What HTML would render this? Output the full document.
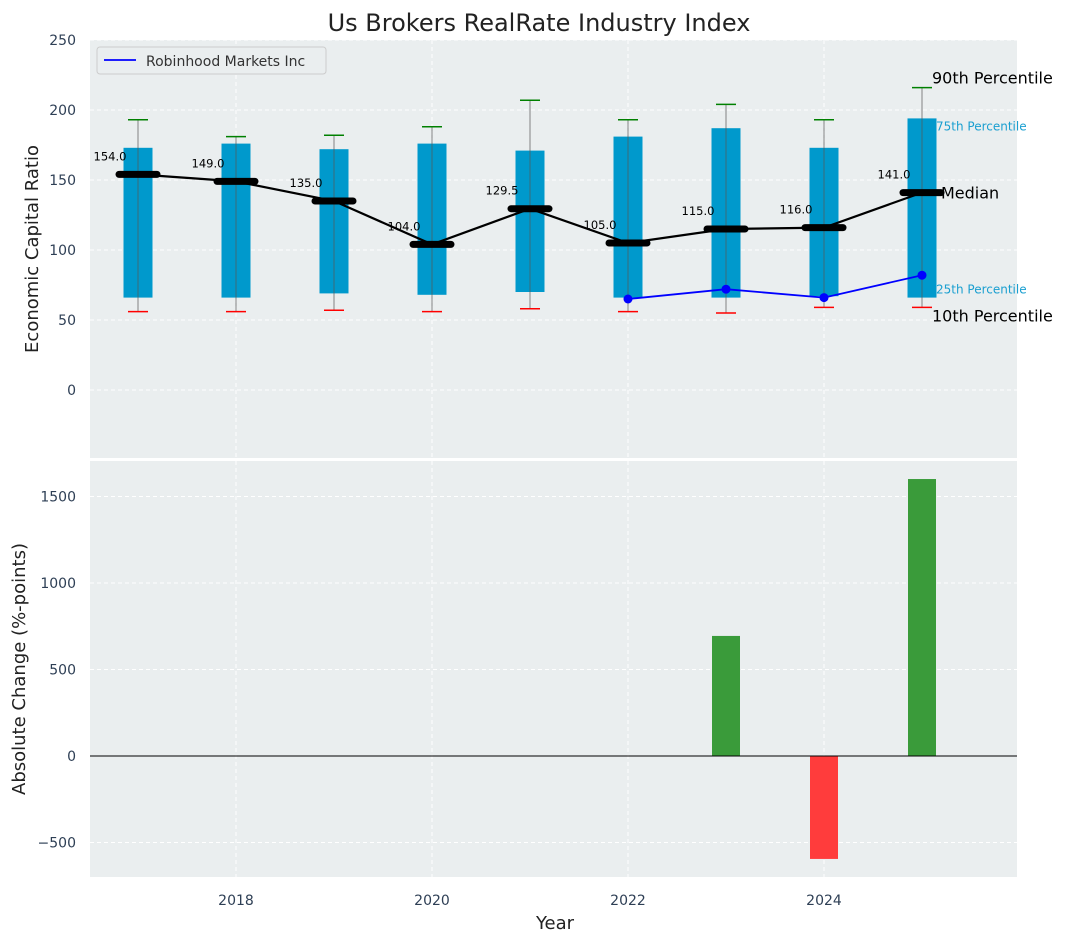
<!DOCTYPE html>
<html><head><meta charset="utf-8"><style>
body{margin:0;background:#fff;font-family:"Liberation Sans","DejaVu Sans",sans-serif}
svg text{font-family:"DejaVu Sans","Liberation Sans",sans-serif}
</style></head><body>
<svg id="c" width="1067" height="942" xmlns="http://www.w3.org/2000/svg"></svg>
<script>
const years=[2017,2018,2019,2020,2021,2022,2023,2024,2025];
const p90=[193,181,182,188,207,193,204,193,216];
const p75=[173,176,172,176,171,181,187,173,194];
const medians=[154,149,135,104,129.5,105,115,116,141];
const p25=[66,66,69,68,70,66,66,67,66];
const p10=[56,56,57,56,58,56,55,59,59];
const rhYears=[2022,2023,2024,2025];
const rhValues=[65,72,66,82];
const chgYears=[2023,2024,2025];
const chgValues=[694,-595,1601];
const topTicks=[0,50,100,150,200,250];
const botTicks=[-500,0,500,1000,1500];
const xTicks=[2018,2020,2022,2024];

const svg=document.getElementById('c');const NS='http://www.w3.org/2000/svg';
function el(t,a,txt,p){const e=document.createElementNS(NS,t);for(const k in a)e.setAttribute(k,a[k]);if(txt!=null)e.textContent=txt;(p||svg).appendChild(e);return e;}
const L=90,R=1017;
const x=v=>236+(v-2018)*98;
const yT=v=>390-1.4*v;
const yB=v=>756-0.173*v;

let g=el('rect',{x:L,y:40,width:R-L,height:418,fill:'#eaeeef'});

g=el('rect',{x:L,y:461,width:R-L,height:416,fill:'#eaeeef'});


xTicks.forEach(t=>{
 el('line',{x1:x(t),x2:x(t),y1:40,y2:458,stroke:'#fff','stroke-dasharray':'4,3'});
 el('line',{x1:x(t),x2:x(t),y1:461,y2:877,stroke:'#fff','stroke-dasharray':'4,3'});
 const tt=el('text',{x:x(t),y:905,'text-anchor':'middle','font-size':14,fill:'#2e3f55'},t);
 
});
topTicks.forEach(t=>{
 el('line',{x1:L,x2:R,y1:yT(t),y2:yT(t),stroke:'#fff','stroke-dasharray':'4,3'});
 const tt=el('text',{x:76,y:yT(t)+5,'text-anchor':'end','font-size':14,fill:'#2e3f55'},t);
 
});
botTicks.forEach(t=>{
 el('line',{x1:L,x2:R,y1:yB(t),y2:yB(t),stroke:'#fff','stroke-dasharray':'4,3'});
 const tt=el('text',{x:76,y:yB(t)+5,'text-anchor':'end','font-size':14,fill:'#2e3f55'},t<0?'\u2212'+(-t):t);
 
});

years.forEach((yr,i)=>{
 const cx=x(yr);
 const b=el('rect',{x:cx-14.5,y:yT(p75[i]),width:29,height:yT(p25[i])-yT(p75[i]),fill:'#0099cc'});
 
 el('line',{x1:cx,x2:cx,y1:yT(p90[i]),y2:yT(p10[i]),stroke:'#555','stroke-opacity':0.7,'stroke-width':1});
 el('line',{x1:cx-10,x2:cx+10,y1:yT(p90[i]),y2:yT(p90[i]),stroke:'green','stroke-width':1.5});
 el('line',{x1:cx-10,x2:cx+10,y1:yT(p10[i]),y2:yT(p10[i]),stroke:'red','stroke-width':1.5});
});
el('polyline',{points:years.map((yr,i)=>x(yr)+','+yT(medians[i])).join(' '),fill:'none',stroke:'#000','stroke-width':2.2});
years.forEach((yr,i)=>{
 const m=el('line',{x1:x(yr)-19,x2:x(yr)+19,y1:yT(medians[i]),y2:yT(medians[i]),stroke:'#000','stroke-width':7,'stroke-linecap':'round'});
 
 const t=el('text',{x:x(yr)-28,y:yT(medians[i])-14,'text-anchor':'middle','font-size':11.5,fill:'#000'},medians[i].toFixed(1));
 
});
el('polyline',{points:rhYears.map((yr,i)=>x(yr)+','+yT(rhValues[i])).join(' '),fill:'none',stroke:'blue','stroke-width':1.8});
rhYears.forEach((yr,i)=>{const c=el('circle',{cx:x(yr),cy:yT(rhValues[i]),r:4.5,fill:'blue'});
 });
const last=years.length-1,lx=x(years[last]);
let a;
a=el('text',{x:lx+10,y:yT(p90[last])-4,'font-size':16,fill:'#000'},'90th Percentile');

a=el('text',{x:lx+14,y:yT(p75[last])+12,'font-size':12,fill:'#1a9fd0'},'75th Percentile');

a=el('text',{x:lx+19,y:yT(medians[last])+6,'font-size':16,fill:'#000'},'Median');

a=el('text',{x:lx+14,y:yT(p25[last])-4,'font-size':12,fill:'#1a9fd0'},'25th Percentile');

a=el('text',{x:lx+10,y:yT(p10[last])+14,'font-size':16,fill:'#000'},'10th Percentile');


chgYears.forEach((yr,i)=>{const v=chgValues[i];
 const r=el('rect',{x:x(yr)-14,y:Math.min(yB(v),yB(0)),width:28,height:Math.abs(yB(v)-yB(0)),fill:v>=0?'#3a9b3a':'#ff3c3c'});
 });
el('line',{x1:L,x2:R,y1:yB(0),y2:yB(0),stroke:'#000','stroke-width':1});

const lg=el('g',{});
el('rect',{x:97,y:47,width:229,height:27,rx:3,fill:'#eaeeef',stroke:'#ccc'},null,lg);
el('line',{x1:104,x2:136,y1:60,y2:60,stroke:'blue','stroke-width':1.8},null,lg);
el('text',{x:146,y:66,'font-size':14,fill:'#333'},'Robinhood Markets Inc',lg);

let t=el('text',{x:539,y:31,'text-anchor':'middle','font-size':24,fill:'#222'},'Us Brokers RealRate Industry Index');

t=el('text',{x:555,y:929,'text-anchor':'middle','font-size':18,fill:'#222'},'Year');

t=el('text',{x:38,y:249,'text-anchor':'middle','font-size':18,fill:'#222',transform:'rotate(-90 38 249)'},'Economic Capital Ratio');

t=el('text',{x:25,y:669,'text-anchor':'middle','font-size':18,fill:'#222',transform:'rotate(-90 25 669)'},'Absolute Change (%-points)');

</script>
</body></html>
